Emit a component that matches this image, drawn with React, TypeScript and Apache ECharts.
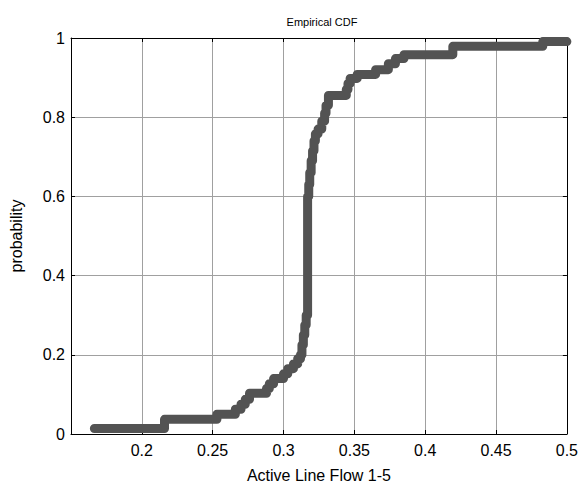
import React, { useEffect, useRef } from "react";
import * as echarts from "echarts";

// Empirical CDF step points (value, probability after the jump)
const flowValues: number[] = [
  0.1665, 0.216, 0.253, 0.266, 0.270, 0.273, 0.276, 0.288, 0.290, 0.293,
  0.300, 0.303, 0.307, 0.310, 0.312, 0.313, 0.314, 0.315, 0.316, 0.317,
  0.3178, 0.3185, 0.3195, 0.3205, 0.3215, 0.3225, 0.3244, 0.327, 0.329, 0.330,
  0.3317, 0.3443, 0.3455, 0.347, 0.352, 0.365, 0.374, 0.379, 0.385, 0.4195,
  0.483, 0.5,
];
const probabilities: number[] = [
  0.014, 0.037, 0.05, 0.0625, 0.075, 0.0875, 0.103, 0.115, 0.127, 0.14,
  0.152, 0.165, 0.177, 0.19, 0.2, 0.225, 0.25, 0.275, 0.3, 0.6,
  0.63, 0.66, 0.69, 0.715, 0.74, 0.758, 0.77, 0.79, 0.81, 0.83,
  0.855, 0.87, 0.885, 0.898, 0.908, 0.92, 0.935, 0.948, 0.958, 0.979,
  0.991, 0.991,
];
const xTicks = { min: 0.15, max: 0.5, interval: 0.05 };
const yTicks = { min: 0, max: 1, interval: 0.2 };

const FONT = "Arial, 'Liberation Sans', Helvetica, sans-serif";

export default function App() {
  const ref = useRef<HTMLDivElement>(null);
  useEffect(() => {
    document.body.style.margin = "0";
    const chart = echarts.init(ref.current!, null, { renderer: "svg" });
    const data = flowValues.map((v, i) => [v, probabilities[i]]);
    const axisCommon = {
      axisLine: { show: true, onZero: false, lineStyle: { color: "#000", width: 1 } },
      axisTick: { show: true, inside: true, length: 4, lineStyle: { color: "#000" } },
    };
    chart.setOption({
      animation: false,
      backgroundColor: "#fff",
      title: {
        text: "Empirical CDF",
        left: 317,
        top: 11,
        textAlign: "center",
        textStyle: { fontFamily: FONT, fontSize: 11, fontWeight: "normal", color: "#000" },
      },
      grid: { left: 68, right: 14, top: 38, bottom: 49, containLabel: false },
      xAxis: [
        {
          type: "value",
          ...xTicks,
          position: "bottom",
          ...axisCommon,
          name: "Active Line Flow 1-5",
          nameLocation: "middle",
          nameGap: 33,
          nameTextStyle: { fontFamily: FONT, fontSize: 16, color: "#000" },
          axisLabel: {
            fontFamily: FONT,
            fontSize: 16,
            color: "#000",
            margin: 8,
            formatter: (v: number) => (Math.abs(v - 0.15) < 1e-9 ? "" : String(+v.toFixed(2))),
          },
          splitLine: { show: true, lineStyle: { color: "#a0a0a0", width: 1 } },
        },
        {
          type: "value",
          ...xTicks,
          position: "top",
          ...axisCommon,
          axisLabel: { show: false },
          splitLine: { show: false },
        },
      ],
      yAxis: [
        {
          type: "value",
          ...yTicks,
          position: "left",
          ...axisCommon,
          name: "probability",
          nameLocation: "middle",
          nameGap: 47,
          nameTextStyle: { fontFamily: FONT, fontSize: 16, color: "#000" },
          axisLabel: {
            fontFamily: FONT,
            fontSize: 16,
            color: "#000",
            margin: 6,
            formatter: (v: number) => String(+v.toFixed(1)),
          },
          splitLine: { show: true, lineStyle: { color: "#a0a0a0", width: 1 } },
        },
        {
          type: "value",
          ...yTicks,
          position: "right",
          ...axisCommon,
          axisLabel: { show: false },
          splitLine: { show: false },
        },
      ],
      series: [
        {
          type: "line",
          data,
          step: "end",
          showSymbol: false,
          symbol: "none",
          clip: true,
          lineStyle: { color: "#535353", width: 9, cap: "round", join: "round" },
        },
      ],
    });
    return () => chart.dispose();
  }, []);
  return <div ref={ref} style={{ width: 581, height: 488 }} />;
}
